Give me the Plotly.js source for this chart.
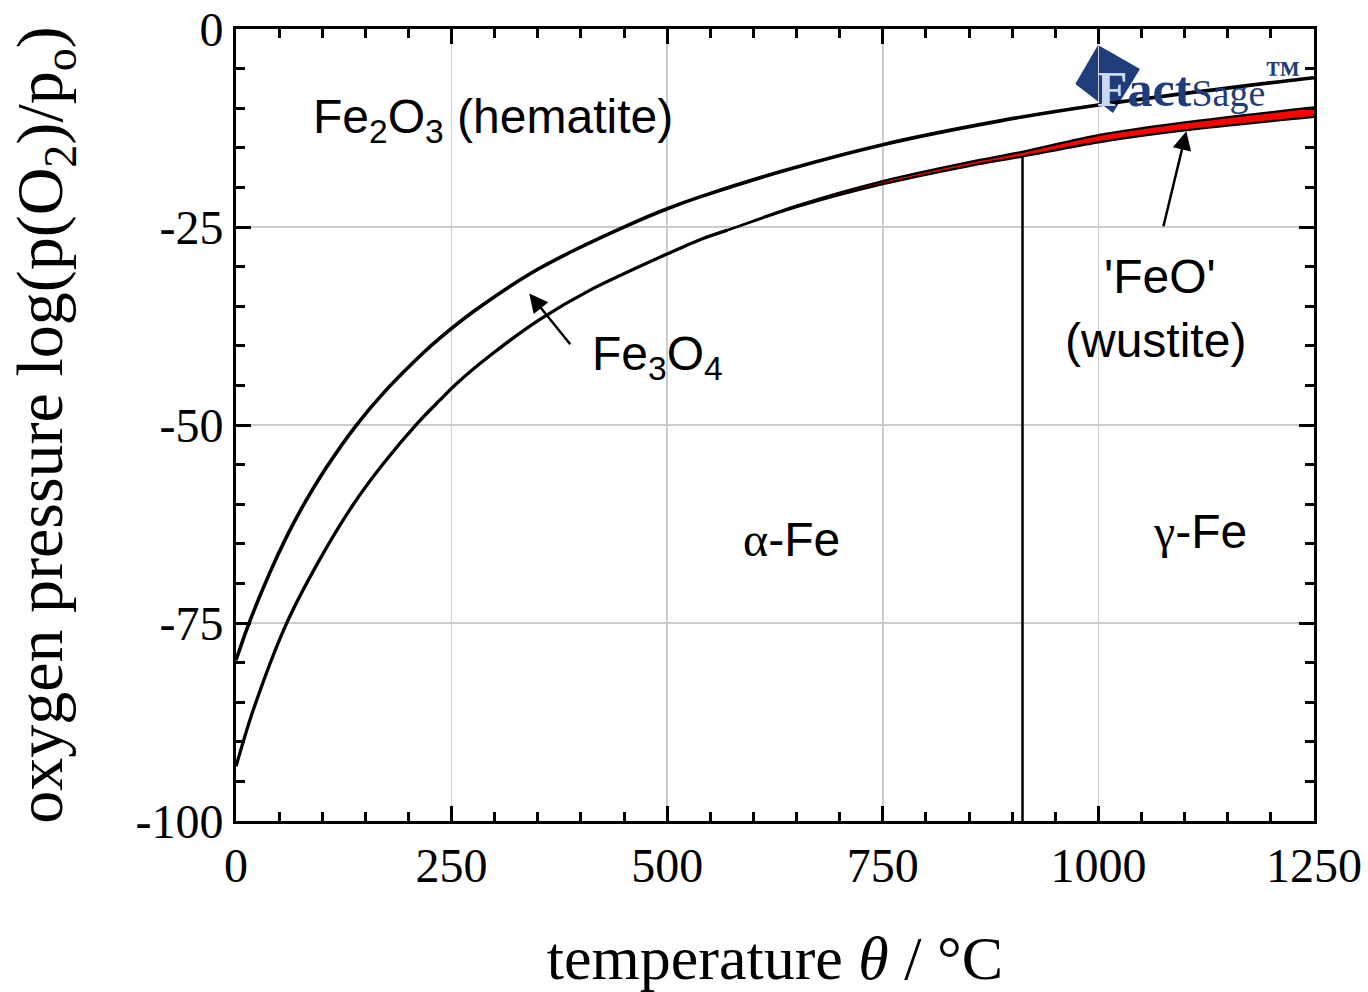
<!DOCTYPE html>
<html>
<head>
<meta charset="utf-8">
<script src="https://cdn.plot.ly/plotly-3.0.1.min.js"></script>
<style>html,body{margin:0;padding:0;background:#fff;}#chart{width:1368px;height:992px;}</style>
</head>
<body>
<div id="chart"></div>
<script>
// Fe2O3 / Fe3O4 boundary
const T_hem = [0, 15, 39, 58, 77, 104, 139, 174, 216, 236, 275, 341, 391, 453, 500, 538, 638, 750, 886, 1000, 1222, 1250];
const logp_hem = [-79.7, -75.05, -68.7, -64.25, -60.35, -55.5, -50.1, -45.6, -41.0, -39.05, -35.7, -30.9, -28.0, -24.85, -22.7, -21.2, -17.8, -14.6, -11.6, -9.6, -6.5, -6.15];
// Fe3O4 / Fe boundary (below 570 °C)
const T_mag = [0, 19, 58, 97, 135, 170, 211, 236, 255, 295, 352, 410, 500, 538, 570];
const logp_mag = [-93.1, -86.3, -75.2, -67, -60.2, -55.0, -49.7, -46.9, -44.85, -41.2, -36.7, -33, -28.4, -26.6, -25.4];
// wustite field boundaries
const T_wus = [570, 650, 750, 850, 912, 1000, 1100, 1250];
const logp_wusFe = [-25.4, -22.5, -19.6, -17.3, -16.1, -14.3, -12.8, -11.1];
const logp_magWus = [-25.4, -22.3, -19.2, -16.8, -15.5, -13.4, -11.8, -9.9];
// alpha/gamma iron transition
const T_ag = [912, 912];
const logp_ag = [-100, -16.1];

const xTickVals = [0, 250, 500, 750, 1000, 1250];
const xTickText = ['0', '250', '500', '750', '1000', '1250'];
const yTickVals = [0, -25, -50, -75, -100];
const yTickText = ['0', '-25', '-50', '-75', '-100'];

const line = (w) => ({color: '#000', width: w, shape: 'spline', smoothing: 0.8});
const traces = [
  {x: T_ag, y: logp_ag, mode: 'lines', line: {color: '#000', width: 2.5}, hoverinfo: 'skip'},
  {x: T_hem, y: logp_hem, mode: 'lines', line: line(3.6), hoverinfo: 'skip'},
  {x: T_mag, y: logp_mag, mode: 'lines', line: line(3.3), hoverinfo: 'skip'},
  {x: T_wus, y: logp_wusFe, mode: 'lines', line: line(2.3), hoverinfo: 'skip'},
  {x: T_wus, y: logp_magWus, mode: 'lines', fill: 'tonexty', fillcolor: '#ff0000', line: line(2.3), hoverinfo: 'skip'}
];

const sans = 'Liberation Sans, Arial, sans-serif';
const serif = 'Liberation Serif, Times New Roman, serif';
const lbl = {family: sans, size: 48, color: '#000'};

const annotations = [
  {x: 298, y: -11.5, xref: 'x', yref: 'y', text: 'Fe<sub>2</sub>O<sub>3</sub> (hematite)', showarrow: false, font: lbl, xanchor: 'center', yanchor: 'middle'},
  {x: 410, y: -41.4, xref: 'x', yref: 'y', text: 'Fe<sub>3</sub>O<sub>4</sub>', showarrow: false, font: lbl, xanchor: 'left', yanchor: 'middle'},
  {x: 1072, y: -31.3, xref: 'x', yref: 'y', text: "'FeO'", showarrow: false, font: lbl, xanchor: 'center', yanchor: 'middle'},
  {x: 1066, y: -39.3, xref: 'x', yref: 'y', text: '(wustite)', showarrow: false, font: lbl, xanchor: 'center', yanchor: 'middle'},
  {x: 644, y: -64.5, xref: 'x', yref: 'y', text: '<span style="font-family:Liberation Serif">α</span>-Fe', showarrow: false, font: lbl, xanchor: 'center', yanchor: 'middle'},
  {x: 1118, y: -63.5, xref: 'x', yref: 'y', text: '<span style="font-family:Liberation Serif">γ</span>-Fe', showarrow: false, font: lbl, xanchor: 'center', yanchor: 'middle'},
  {x: 340, y: -33.4, ax: 389, ay: -40, xref: 'x', yref: 'y', axref: 'x', ayref: 'y', text: '', showarrow: true, arrowhead: 2, arrowsize: 1.5, arrowwidth: 2.5, arrowcolor: '#000', standoff: 0},
  {x: 1102, y: -12.9, ax: 1075, ay: -25.1, xref: 'x', yref: 'y', axref: 'x', ayref: 'y', text: '', showarrow: true, arrowhead: 2, arrowsize: 1.5, arrowwidth: 2.5, arrowcolor: '#000', standoff: 0},
  {x: 0.797, y: 0.929, xref: 'paper', yref: 'paper', text: '<span style="color:#c9d9ef">F</span>act<span style="font-weight:normal;font-size:38px">Sage</span><sup>™</sup>', showarrow: false, font: {family: serif, size: 50, color: '#1f3d7a', weight: 'bold'}, xanchor: 'left', yanchor: 'middle'}
];

const axisCommon = {
  showline: true, linecolor: '#000', linewidth: 3, mirror: 'ticks',
  ticks: 'inside', ticklen: 15, tickwidth: 3, tickcolor: '#000',
  showgrid: true, gridcolor: '#cccccc', gridwidth: 1.5, zeroline: false,
  tickmode: 'array', tickfont: {family: serif, size: 48, color: '#000'}
};

const layout = {
  width: 1368, height: 992,
  margin: {l: 236, r: 54, t: 29, b: 171},
  paper_bgcolor: '#fff', plot_bgcolor: '#fff',
  showlegend: false,
  xaxis: Object.assign({}, axisCommon, {
    range: [0, 1250], tickvals: xTickVals, ticktext: xTickText,
    minor: {dtick: 50, tick0: 0, ticks: 'inside', ticklen: 9, tickwidth: 3, tickcolor: '#000', showgrid: false},
    title: {text: 'temperature <i>θ</i> / °C', font: {family: serif, size: 62, color: '#000'}, standoff: 48}
  }),
  yaxis: Object.assign({}, axisCommon, {
    range: [-100, 0], tickvals: yTickVals, ticktext: yTickText,
    minor: {dtick: 5, tick0: 0, ticks: 'inside', ticklen: 9, tickwidth: 3, tickcolor: '#000', showgrid: false},
    title: {text: 'oxygen pressure log(p(O<sub>2</sub>)/p<sub>o</sub>)', font: {family: serif, size: 66, color: '#000'}, standoff: 52}
  }),
  shapes: [
    {type: 'path', xref: 'paper', yref: 'paper', layer: 'between',
     path: 'M 0.7996 0.9798 L 0.8386 0.9495 L 0.8135 0.8939 L 0.7786 0.9306 Z',
     fillcolor: '#1f3d7a', line: {width: 0}}
  ],
  annotations: annotations
};

Plotly.newPlot('chart', traces, layout, {staticPlot: true, displayModeBar: false});
</script>
</body>
</html>
